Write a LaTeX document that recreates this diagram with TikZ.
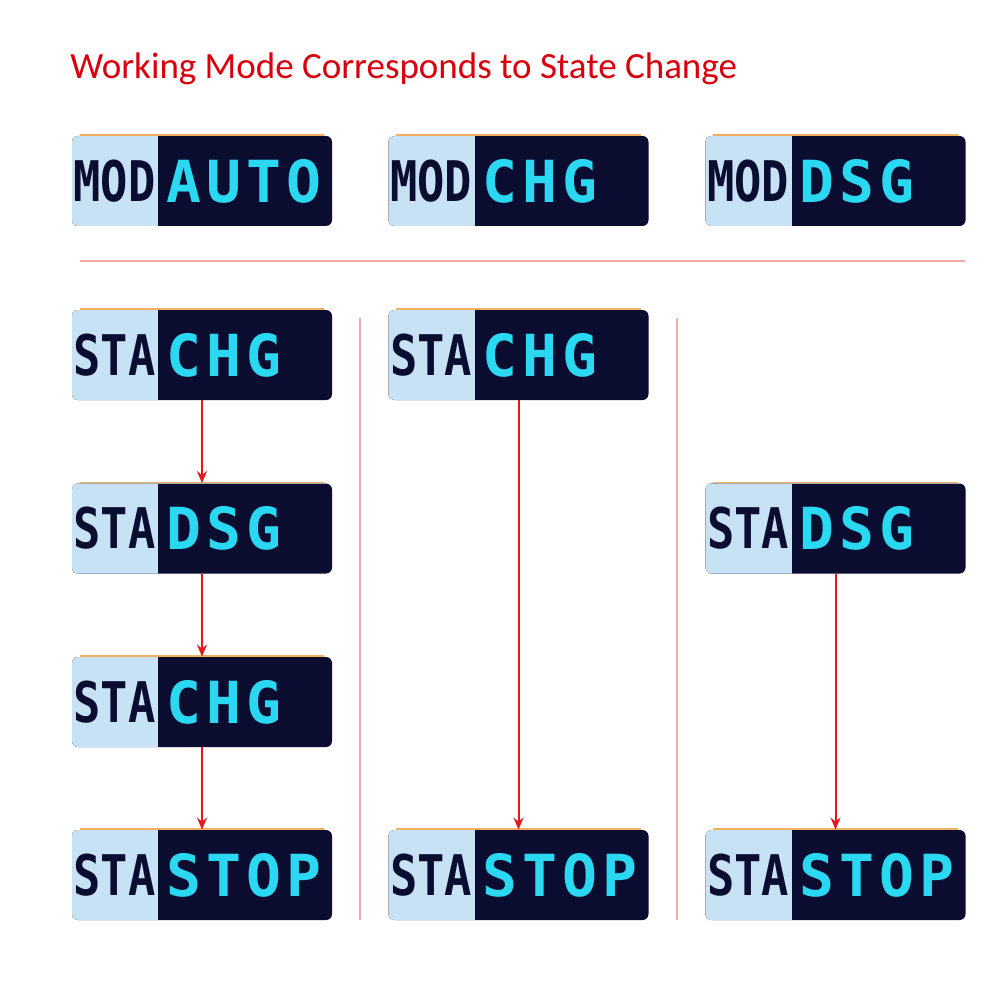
\documentclass[tikz,border=0pt]{standalone}
\usepackage{fontspec}
\usepackage{graphicx}
\setmainfont{Carlito}
\newfontfamily\lcdval[LetterSpace=9]{DejaVu Sans Mono}
\newfontfamily\lcdlab{DejaVu Sans Mono}
\usetikzlibrary{arrows.meta}
\definecolor{navy}{HTML}{0B0D30}
\definecolor{lcdlight}{HTML}{C6E2F4}
\definecolor{lcdcyan}{HTML}{2AD8F2}
\definecolor{titlered}{HTML}{D9000D}
\definecolor{arrowred}{HTML}{E3191B}
\definecolor{seppink}{HTML}{F2A9A9}
\definecolor{edgeorange}{HTML}{F0B060}
\tikzset{
  lcd/.style={rectangle, rounded corners=3pt, fill=navy, minimum width=130pt,
    minimum height=45pt, inner sep=0pt,
    path picture={\fill[lcdlight, sharp corners] (path picture bounding box.south west) rectangle ([xshift=43pt]path picture bounding box.north west);}},
  labtxt/.style={inner sep=0pt, text=navy, font=\lcdlab\bfseries\fontsize{28}{28}\selectfont},
  valtxt/.style={inner sep=0pt, text=lcdcyan, font=\lcdval\bfseries\fontsize{29}{29}\selectfont},
  flow/.style={draw=arrowred, line width=1pt, -{Stealth[length=6pt,width=5pt]}},
  sepline/.style={draw=seppink, line width=0.8pt}
}
\newcommand{\lcdbox}[5]{%
  \node[lcd] (#1) at (#2,#3) {};
  \draw[edgeorange, line width=0.6pt] ([xshift=4pt,yshift=0.3pt]#1.north west) -- ([xshift=-4pt,yshift=0.3pt]#1.north east);
  \node[labtxt] (#1l) at ([xshift=21.5pt]#1.west) {\scalebox{0.81}[1]{#4}};
  \node[valtxt, anchor=west] (#1v) at ([xshift=47pt]#1.west) {#5};
}
\begin{document}
\begin{tikzpicture}[x=0.5pt,y=-0.5pt]
\useasboundingbox (0,0) rectangle (1000,1000);
\fill[white] (0,0) rectangle (1000,1000);
\node[anchor=base west, inner sep=0pt, text=titlered, font=\fontsize{18.5}{22}\selectfont] (title) at (70,79) {Working Mode Corresponds to State Change};
% mode row
\lcdbox{m1}{202}{181}{MOD}{AUTO}
\lcdbox{m2}{518.5}{181}{MOD}{CHG}
\lcdbox{m3}{835.5}{181}{MOD}{DSG}
% separators
\coordinate (hl) at (80,261);
\coordinate (hr) at (965,261);
\draw[sepline] (hl) -- (hr);
\coordinate (v1t) at (360,318);
\coordinate (v1b) at (360,920);
\coordinate (v2t) at (677,318);
\coordinate (v2b) at (677,920);
\draw[sepline] (v1t) -- (v1b);
\draw[sepline] (v2t) -- (v2b);
% column 1
\lcdbox{a1}{202}{355}{STA}{CHG}
\lcdbox{a2}{202}{528.5}{STA}{DSG}
\lcdbox{a3}{202}{702}{STA}{CHG}
\lcdbox{a4}{202}{875}{STA}{STOP}
% column 2
\lcdbox{b1}{518.5}{355}{STA}{CHG}
\lcdbox{b4}{518.5}{875}{STA}{STOP}
% column 3
\lcdbox{c2}{835.5}{528.5}{STA}{DSG}
\lcdbox{c4}{835.5}{875}{STA}{STOP}
% arrows
\draw[flow] (a1.south) -- (a2.north);
\draw[flow] (a2.south) -- (a3.north);
\draw[flow] (a3.south) -- (a4.north);
\draw[flow] (b1.south) -- (b4.north);
\draw[flow] (c2.south) -- (c4.north);
\end{tikzpicture}
\end{document}
